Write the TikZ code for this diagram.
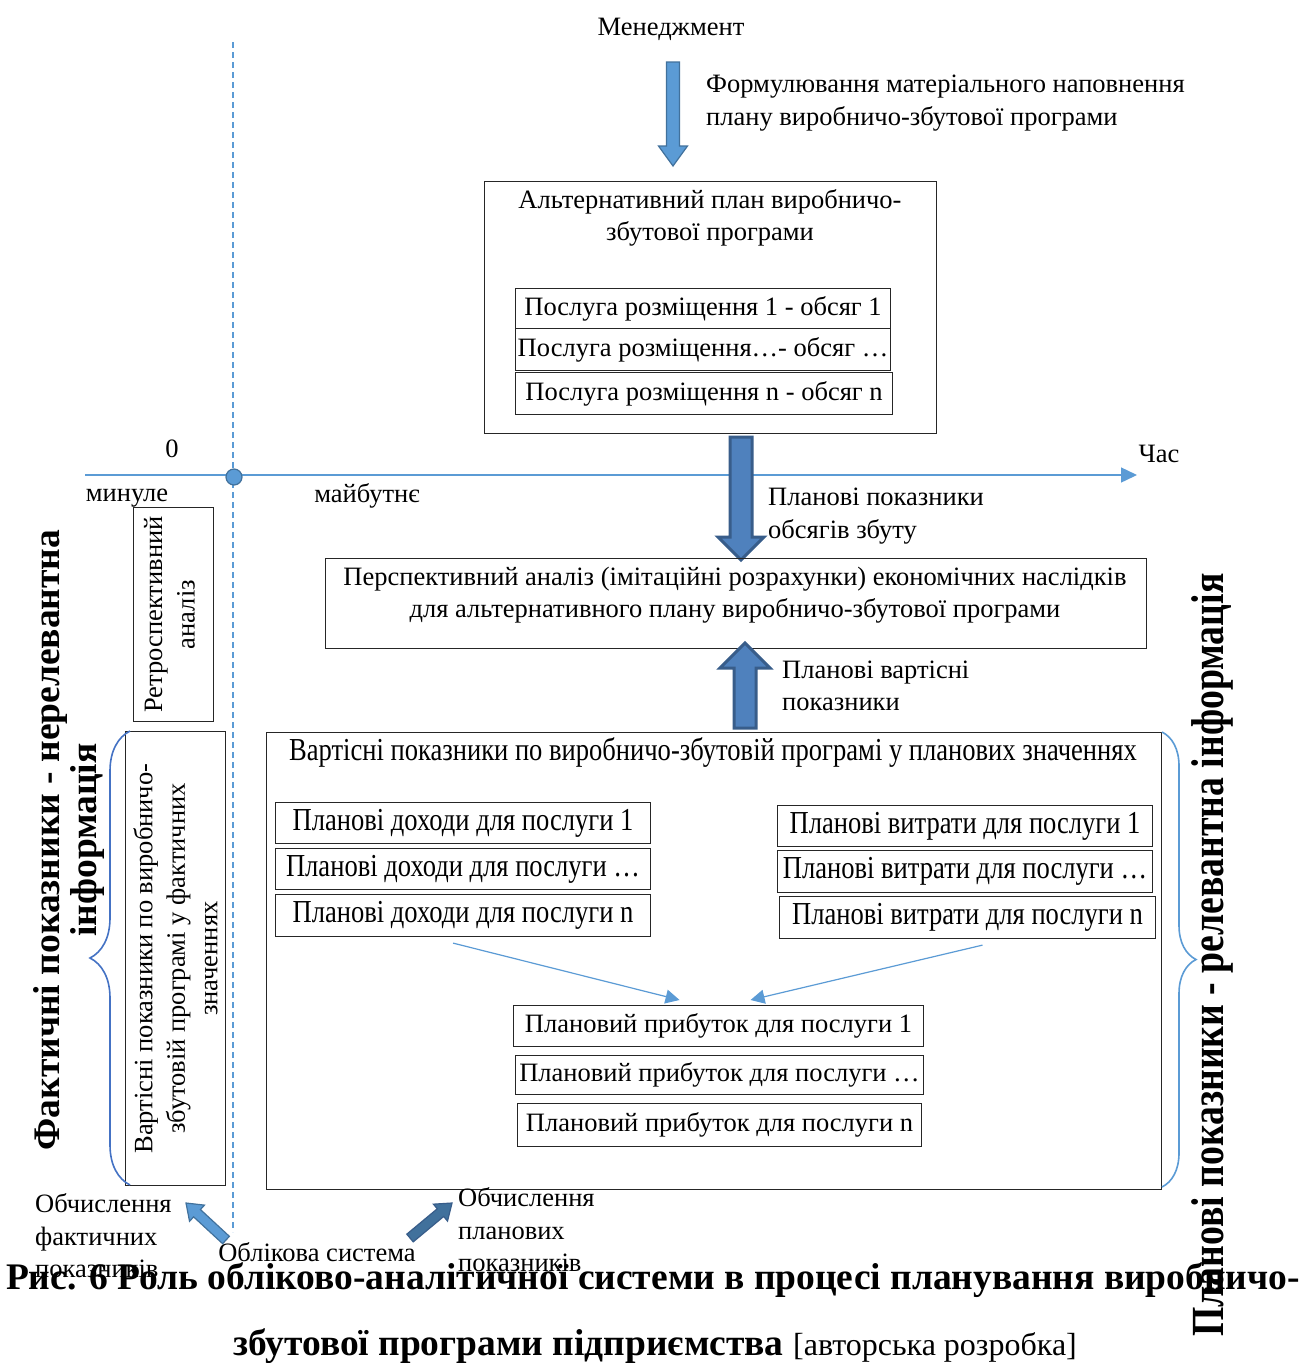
\documentclass[tikz,border=0pt]{standalone}
\usepackage{fontspec}
\setmainfont{Liberation Serif}
\newfontfamily\narrowfont[FakeStretch=0.83]{Liberation Serif}
\newfontfamily\narrowbold[FakeStretch=0.82]{Liberation Serif}
\usetikzlibrary{calc,arrows.meta,decorations.pathreplacing}

\definecolor{axisblue}{HTML}{5B9BD5}
\definecolor{axisdark}{HTML}{41719C}
\definecolor{arrfill}{HTML}{4F81BD}
\definecolor{arrdraw}{HTML}{385D8A}
\definecolor{bracedark}{HTML}{4472C4}

\newcommand\bodysize{\fontsize{26.5}{32.5}\selectfont}
\newcommand\narrowsize{\narrowfont\fontsize{32}{38}\selectfont}

% block arrow: #1 style, #2 tail, #3 tip, #4 half shaft width, #5 half head width, #6 head length
\newcommand\BlockArr[6]{%
  \coordinate (ba-base) at ($(#3)!#6!(#2)$);
  \draw[#1] ($(#2)!#4!90:(#3)$) -- ($(ba-base)!#4!90:(#3)$) -- ($(ba-base)!#5!90:(#3)$)
    -- (#3) -- ($(ba-base)!#5!-90:(#3)$) -- ($(ba-base)!#4!-90:(#3)$)
    -- ($(#2)!#4!-90:(#3)$) -- cycle;
}

\begin{document}
\begin{tikzpicture}[x=1pt,y=-1pt,
  box/.style={draw=black!85, line width=1.1pt, inner sep=0pt, anchor=north west},
  txt/.style={font=\bodysize, inner sep=0pt, align=center},
  ltxt/.style={font=\bodysize, inner sep=0pt, align=left, anchor=west},
  ntxt/.style={font=\narrowsize, inner sep=0pt, align=center},
  lightarrow/.style={fill=axisblue, draw=axisdark, line width=1.2pt, line join=miter},
  heavyarrow/.style={fill=arrfill, draw=arrdraw, line width=3pt, line join=miter},
  darkarrow/.style={fill=axisdark, draw=arrdraw, line width=1.2pt, line join=miter},
  thinarrow/.style={draw=axisblue, line width=1.2pt, -{Triangle[length=14pt,width=14pt]}},
  bracestyle/.style={decorate, line width=1.6pt},
]
\fill[white] (0,0) rectangle (1302,1363);
\useasboundingbox (0,0) rectangle (1302,1363);

% time axis and the "now" line
\draw[axisblue, line width=1.2pt, dashed, dash pattern=on 6pt off 4pt] (233,42) -- (233,1232);
\coordinate (axstart) at (85,475);
\coordinate (axend) at (1137,475);
\draw[axisblue, line width=1.4pt, -{Triangle[length=16pt,width=15pt]}] (axstart) -- (axend);
\node[circle, fill=axisblue, draw=axisdark, line width=1.2pt, minimum size=16pt, inner sep=0pt] (now) at (234,477) {};
\node[txt] (zero) at (172,449) {0};
\node[txt] (time) at (1159,454) {Час};
\node[txt] (past) at (127,498) {минуле};
\node[txt] (future) at (367,496) {майбутнє};

% management and the material plan
\node[txt] (mgmt) at (671,29) {Менеджмент};
\coordinate (a1s) at (673,62);
\coordinate (a1e) at (673,166);
\BlockArr{lightarrow}{a1s}{a1e}{6.5pt}{14.5pt}{20pt}
\node[ltxt] (formul) at (706,103) {Формулювання матеріального наповнення\\плану виробничо-збутової програми};

\node[box, minimum width=452, minimum height=252] (A) at (484,181) {};
\node[txt] (Atitle) at (710,218) {Альтернативний план виробничо-\\збутової програми};
\node[box, txt, anchor=north west, minimum width=375, minimum height=40] (S1) at (515,288) {Послуга розміщення 1 - обсяг 1};
\node[box, txt, anchor=north west, minimum width=375, minimum height=42] (S2) at (515,328) {Послуга розміщення\ldots- обсяг \ldots};
\node[box, txt, anchor=north west, minimum width=377, minimum height=42] (S3) at (515,372) {Послуга розміщення n - обсяг n};

% from the plan to the prospective analysis
\coordinate (a2s) at (741,437);
\coordinate (a2e) at (741,560);
\BlockArr{heavyarrow}{a2s}{a2e}{11pt}{23pt}{23pt}
\node[ltxt] (volumes) at (768,516) {Планові показники\\обсягів збуту};

\node[box, minimum width=821, minimum height=90] (B) at (325,558) {};
\node[txt] (Btext) at (735,595) {Перспективний аналіз (імітаційні розрахунки) економічних наслідків\\для альтернативного плану виробничо-збутової програми};

\coordinate (a3s) at (745,728);
\coordinate (a3e) at (745,643);
\BlockArr{heavyarrow}{a3s}{a3e}{11pt}{25pt}{25pt}
\node[ltxt] (costs) at (782,686) {Планові вартісні\\показники};

% planned cost indicators
\node[box, minimum width=895, minimum height=457] (C) at (266,732) {};
\node[ntxt] (Ctitle) at (713,752) {Вартісні показники по виробничо-збутовій програмі у планових значеннях};

\node[box, ntxt, anchor=north west, minimum width=375, minimum height=41] (L1) at (275,802) {Планові доходи для послуги 1};
\node[box, ntxt, anchor=north west, minimum width=375, minimum height=41] (L2) at (275,848) {Планові доходи для послуги \ldots};
\node[box, ntxt, anchor=north west, minimum width=375, minimum height=42] (L3) at (275,894) {Планові доходи для послуги n};

\node[box, ntxt, anchor=north west, minimum width=375, minimum height=41] (R1) at (777,805) {Планові витрати для послуги 1};
\node[box, ntxt, anchor=north west, minimum width=375, minimum height=42] (R2) at (777,850) {Планові витрати для послуги \ldots};
\node[box, ntxt, anchor=north west, minimum width=376, minimum height=42] (R3) at (779,896) {Планові витрати для послуги n};

\node[box, txt, anchor=north west, minimum width=410, minimum height=41] (P1) at (513,1005) {Плановий прибуток для послуги 1};
\node[box, txt, anchor=north west, minimum width=408, minimum height=39] (P2) at (515,1055) {Плановий прибуток для послуги \ldots};
\node[box, txt, anchor=north west, minimum width=404, minimum height=43] (P3) at (517,1103) {Плановий прибуток для послуги n};

\draw[thinarrow] ([shift={(-10pt,-6pt)}]L3.south) -- ([shift={(-39pt,5pt)}]P1.north);
\draw[thinarrow] ([shift={(15pt,-6pt)}]R3.south) -- ([shift={(32pt,5pt)}]P1.north);

% actual values (past)
\node[box, minimum width=80, minimum height=214] (retro) at (133,507) {};
\node[txt, rotate=90] (retrotext) at ([xshift=-4pt]retro.center) {Ретроспективний\\аналіз};
\node[box, minimum width=100, minimum height=454] (fact) at (125,731) {};
\node[txt, rotate=90] (facttext) at (fact.center) {Вартісні показники по виробничо-\\збутовій програмі у фактичних\\значеннях};

% braces and side headings
\draw[bracestyle, bracedark, decoration={brace, amplitude=40pt}] (130,1185) -- (130,731);
\draw[bracestyle, axisblue, decoration={brace, amplitude=34pt}] (1162,732) -- (1162,1187);
\node[font=\fontsize{37.5}{37}\selectfont\bfseries, inner sep=0pt, align=center, rotate=90] (facthead) at (69,840) {Фактичні показники - нерелевантна\\інформація};
\node[font=\narrowbold\fontsize{46}{48}\selectfont\bfseries, inner sep=0pt, rotate=90] (planhead) at (1212,955) {Планові показники - релевантна інформація};

% accounting system
\node[txt] (acc) at (317,1252) {Облікова система};
\node[ltxt] (calcfact) at (35,1236) {Обчислення\\фактичних\\показників};
\node[ltxt] (calcplan) at (458,1230) {Обчислення\\планових\\показників};
\coordinate (a4s) at (226,1240);
\coordinate (a4e) at (186,1203);
\BlockArr{lightarrow}{a4s}{a4e}{5pt}{11pt}{15pt}
\coordinate (a5s) at (410,1238);
\coordinate (a5e) at (452,1203);
\BlockArr{darkarrow}{a5s}{a5e}{5pt}{11pt}{15pt}

% caption
\node[font=\fontsize{37.5}{40}\selectfont\bfseries, inner sep=0pt] (cap1) at (653,1280) {Рис. 6 Роль обліково-аналітичної системи в процесі планування виробничо-};
\node[font=\fontsize{37.5}{40}\selectfont, inner sep=0pt] (cap2) at (655,1346) {\textbf{збутової програми підприємства} {\fontsize{32}{36}\selectfont[авторська розробка]}};
\end{tikzpicture}
\end{document}
